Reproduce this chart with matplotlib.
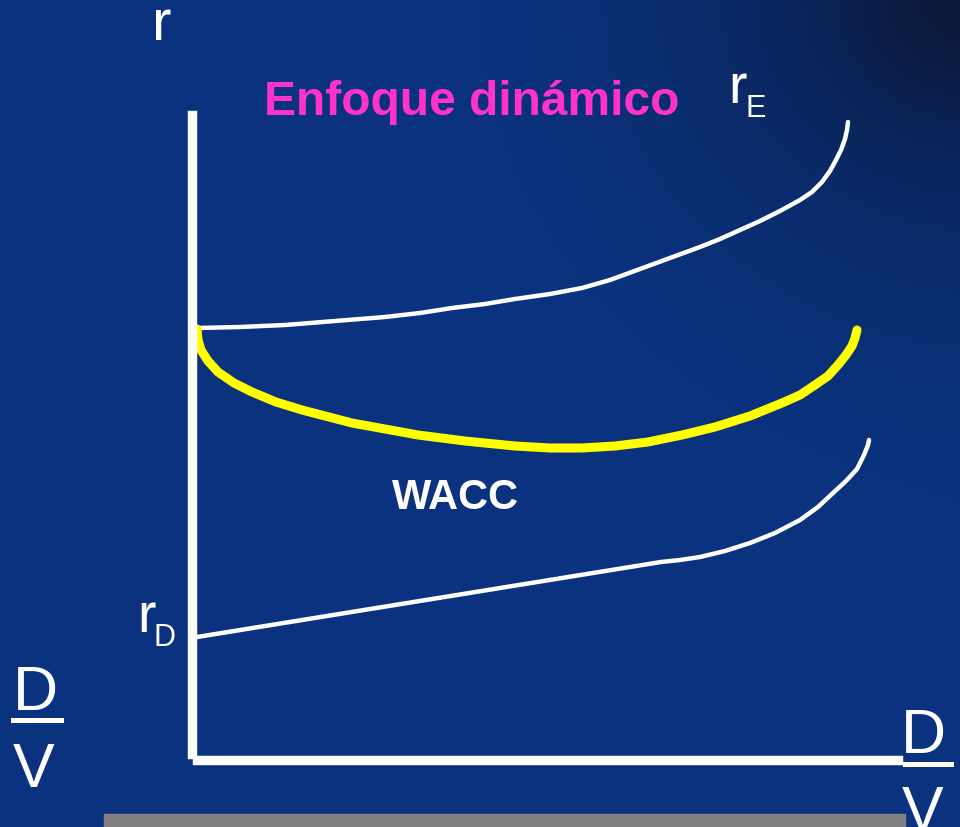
import matplotlib
matplotlib.use('Agg')
import matplotlib.pyplot as plt
import numpy as np
from matplotlib.lines import Line2D
from matplotlib.patches import Rectangle

W, H = 960, 827

# curves, in the chart's own units:
# x = D/V measured from the vertical axis, y = r measured from the horizontal axis
re_x = [6, 48, 93, 143, 193, 228, 260, 293, 323, 358, 390, 418, 448, 478, 508,
        528, 548, 568, 588, 608, 620, 630, 638, 644, 649, 653, 655, 656]
re_y = [430, 431, 433, 437, 441, 445, 450, 454, 459, 464, 470, 478, 489, 500, 511,
        519, 528, 537, 547, 558, 566, 576, 587, 598, 608, 619, 628, 636]

wacc_x = [5, 6, 9, 16, 26, 42, 60, 84, 110, 160, 226, 273, 323, 358, 390, 423, 456,
          490, 523, 558, 590, 608, 623, 636, 646, 654, 660, 663, 665]
wacc_y = [429, 418, 408, 397, 386, 375, 366, 356, 348, 335, 323, 317, 312, 310, 310, 312, 316,
          323, 331, 342, 355, 363, 373, 382, 393, 403, 412, 420, 428]

rd_x = [5, 469, 488, 508, 533, 558, 583, 608, 626, 641, 654, 665, 672, 676, 677]
rd_y = [121, 196, 198, 201, 207, 215, 225, 238, 251, 265, 277, 289, 303, 313, 318]

title = 'Enfoque dinámico'
font = ['Liberation Sans', 'DejaVu Sans']

fig = plt.figure(figsize=(W / 100, H / 100), dpi=100)

# background gradient, darker towards the top right corner
bg = fig.add_axes([0, 0, 1, 1])
yy, xx = np.mgrid[0:H, 0:W]
d = np.sqrt((xx - W) ** 2 + (yy * 1.1) ** 2)
t = np.clip(1 - d / 650, 0, 1) ** 2.6
t = t + 0.08 * (xx / W) ** 3 * (1 - yy / H)
t = np.clip(t, 0, 1)[..., None]
base = np.array([10, 51, 128]) / 255
dark = np.array([12, 24, 56]) / 255
img = base * (1 - t) + dark * t
bg.imshow(img, extent=[0, W, H, 0], aspect='auto')
bg.set_axis_off()

ax = fig.add_axes([192 / W, (H - 758) / H, 706 / W, 643 / H])
ax.set_xlim(0, 706)
ax.set_ylim(0, 643)
ax.patch.set_alpha(0)
ax.set_xticks([])
ax.set_yticks([])
for s in ['top', 'right']:
    ax.spines[s].set_visible(False)
ax.spines['left'].set_color('white')
ax.spines['left'].set_linewidth(6.8)
ax.spines['left'].set_bounds(4, 643)
ax.spines['bottom'].set_color('white')
ax.spines['bottom'].set_linewidth(6.8)
ax.spines['bottom'].set_position(('data', -2))
ax.spines['bottom'].set_bounds(5, 706)

ax.plot(re_x, re_y, color='white', lw=3.2, solid_capstyle='round', solid_joinstyle='round', clip_on=False)
ax.plot(wacc_x, wacc_y, color='#ffff00', lw=6.5, solid_capstyle='round', solid_joinstyle='round', clip_on=False)
ax.plot(rd_x, rd_y, color='white', lw=3.2, solid_capstyle='round', solid_joinstyle='round', clip_on=False)


def px_text(x, y, s, size, color='white', **kw):
    fig.text(x / W, 1 - y / H, s, fontsize=size, family=font, color=color,
             ha='left', va='baseline', **kw)


px_text(152, 40, 'r', 42)
px_text(264, 115, title, 34.5, weight='bold', color='#ff33cc')
px_text(728, 103, 'r', 40)
px_text(746, 117, 'E', 22)
px_text(392, 509, 'WACC', 30, weight='bold')
px_text(137, 632, 'r', 40)
px_text(153, 646, 'D', 22)

# D/V fractions
px_text(13, 710, 'D', 45)
px_text(13, 787, 'V', 45)
px_text(901, 753, 'D', 45)
px_text(902, 830, 'V', 45)
fig.add_artist(Line2D([13 / W, 61 / W], [1 - 719.5 / H, 1 - 719.5 / H], color='white', lw=3.6))
fig.add_artist(Line2D([905 / W, 951 / W], [1 - 763.5 / H, 1 - 763.5 / H], color='white', lw=3.6))

# grey strip at the bottom
fig.add_artist(Rectangle((104 / W, 0), (905 - 104) / W, 13 / H, color='#808080',
                         transform=fig.transFigure))

fig.savefig('out.png', dpi=100)
